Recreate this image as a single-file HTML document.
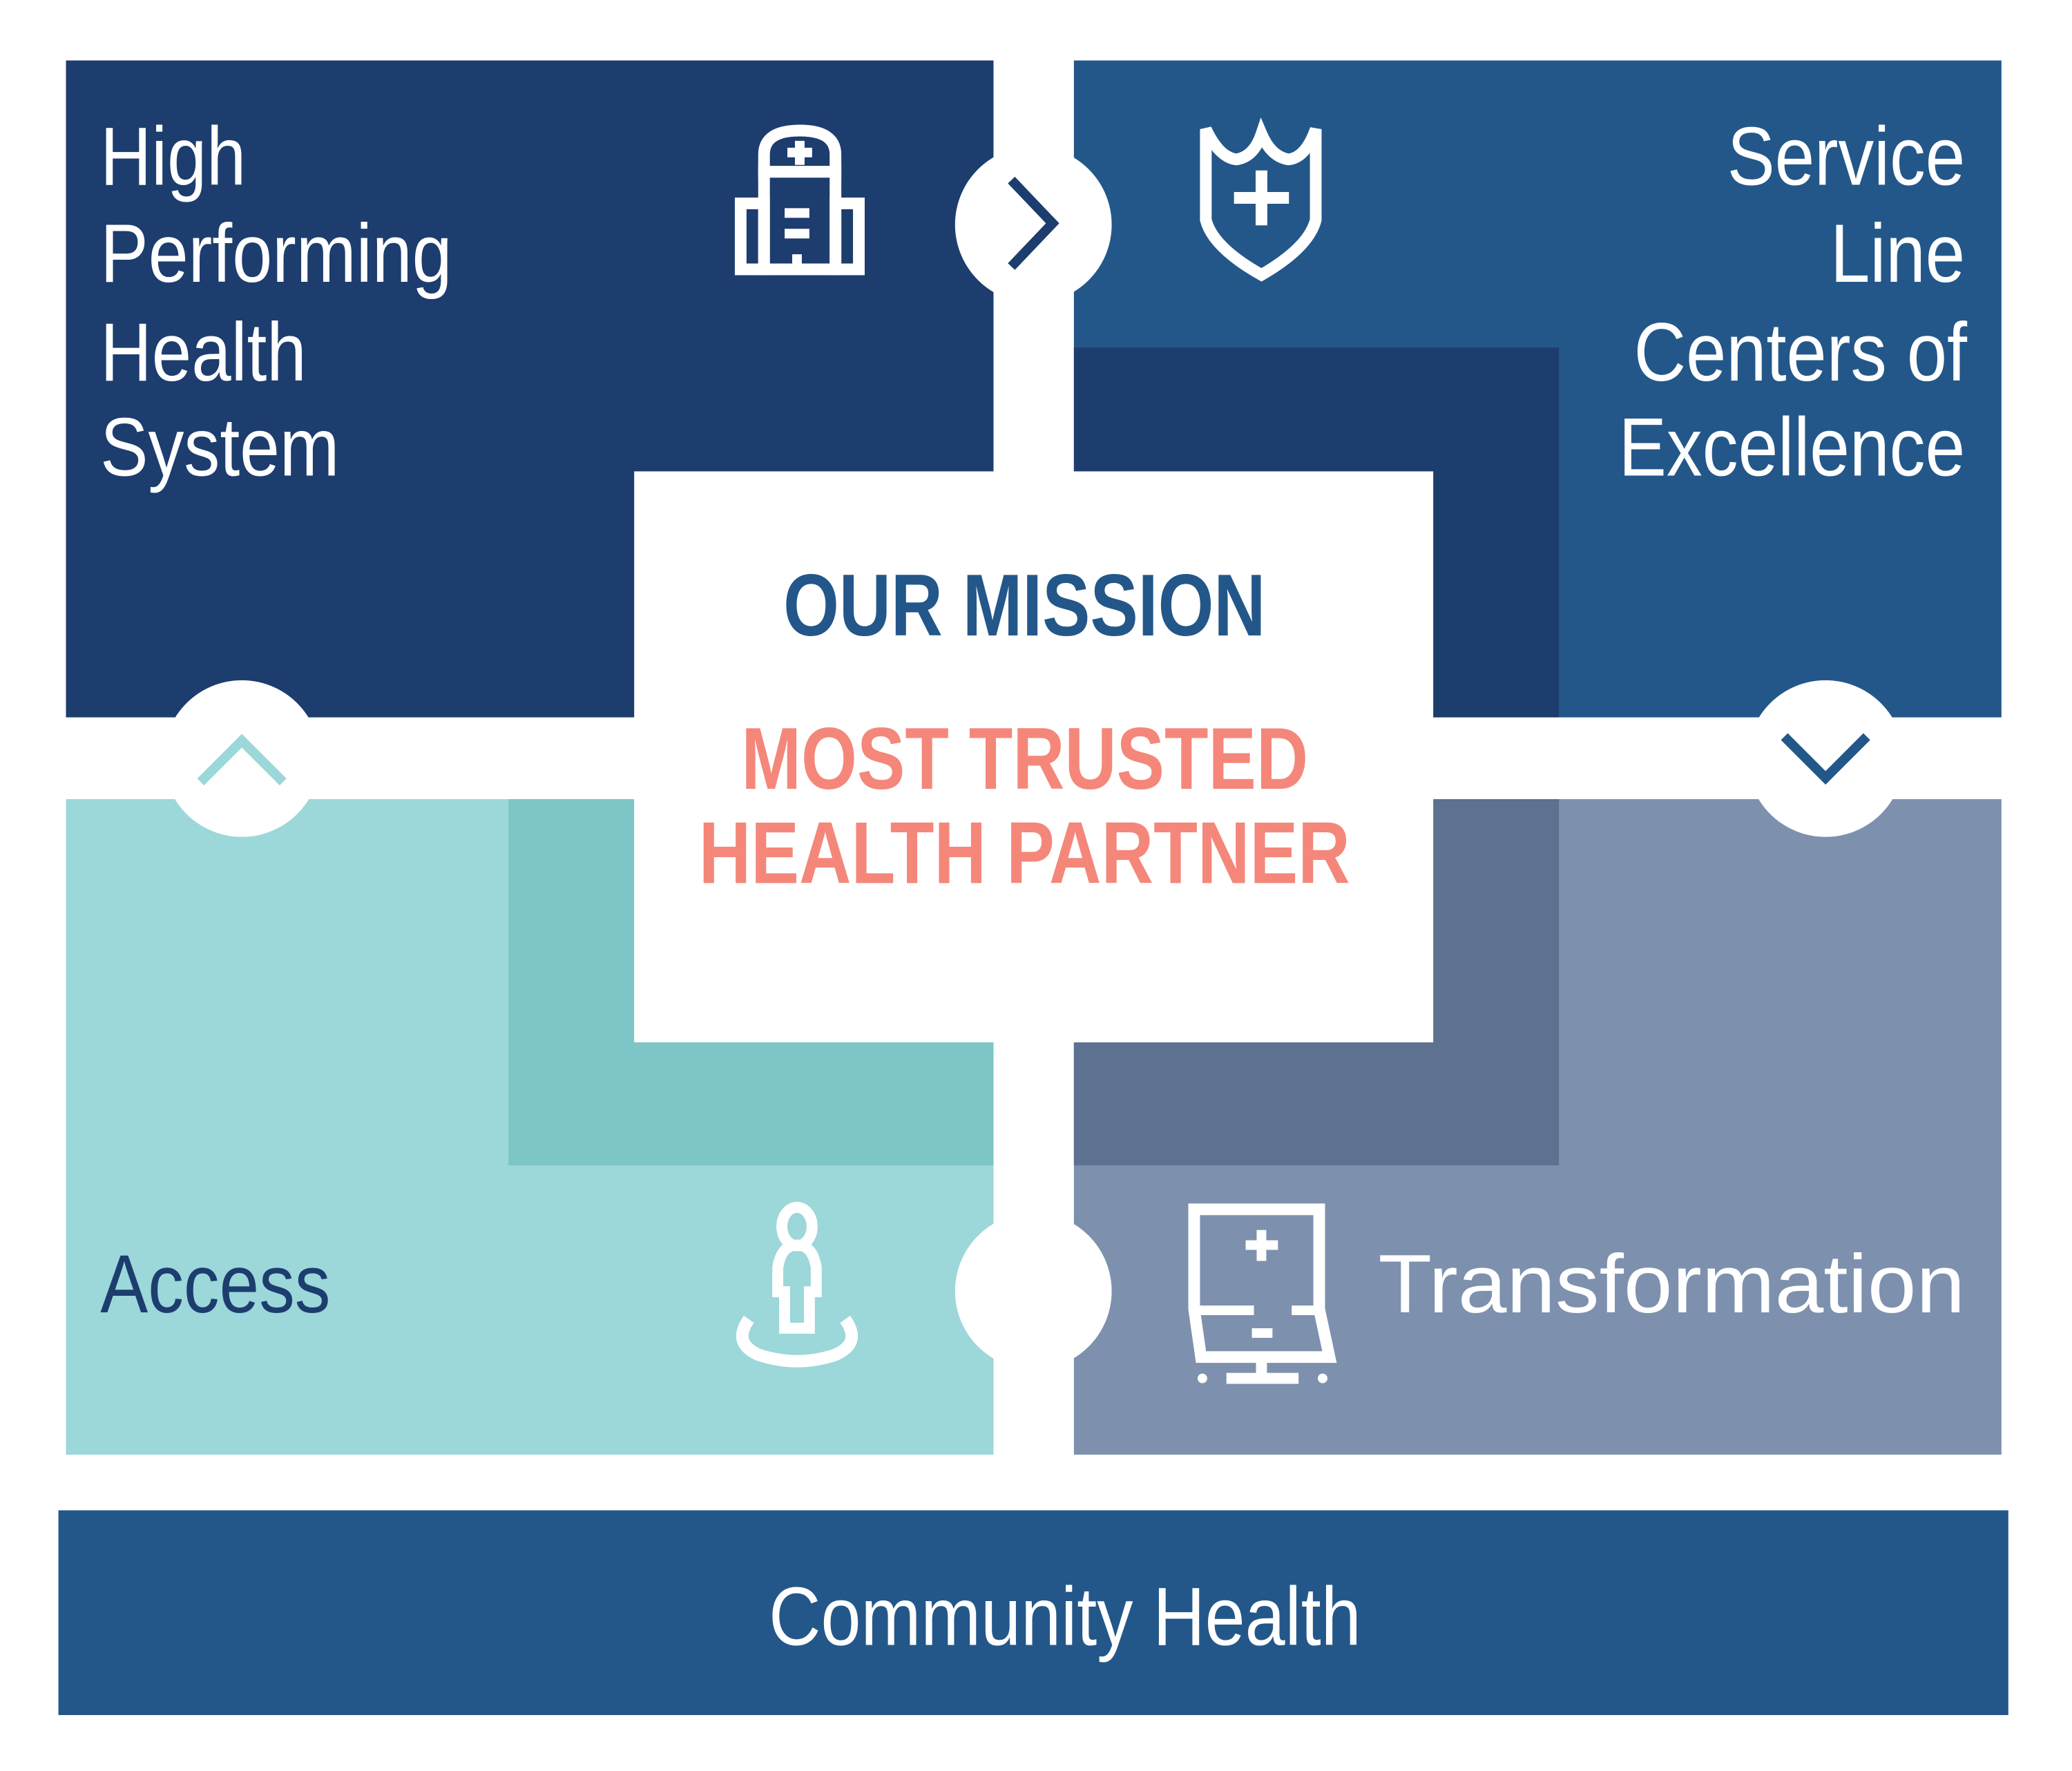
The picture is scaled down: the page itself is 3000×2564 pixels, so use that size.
<!DOCTYPE html>
<html><head><meta charset="utf-8"><style>html,body{margin:0;padding:0;background:#fff}svg{display:block}</style></head>
<body>
<svg width="3000" height="2564" viewBox="0 0 3000 2564" xmlns="http://www.w3.org/2000/svg" font-family="'Liberation Sans', sans-serif">
<rect width="3000" height="2564" fill="#fff"/>
<g transform="scale(0.9948)">
<rect x="96" y="88" width="1350" height="956" fill="#1c3d6e"/>
<rect x="1563" y="88" width="1350" height="956" fill="#235789"/>
<rect x="1563" y="506" width="706" height="538" fill="#1c3d6e"/>
<rect x="96" y="1163" width="1350" height="954" fill="#9cd7d9"/>
<rect x="740" y="1163" width="706" height="533" fill="#7ec5c7"/>
<rect x="1563" y="1163" width="1350" height="954" fill="#7d91ae"/>
<rect x="1563" y="1163" width="706" height="533" fill="#5d7190"/>
<rect x="923" y="686" width="1163" height="831" fill="#fff"/>
<rect x="85" y="2198" width="2838" height="298" fill="#235789"/>
<circle cx="1504" cy="327" r="114" fill="#fff"/>
<circle cx="352" cy="1104" r="114" fill="#fff"/>
<circle cx="2657" cy="1104" r="114" fill="#fff"/>
<circle cx="1504" cy="1879" r="114" fill="#fff"/>
<polyline points="1472,262 1532,325 1472,388" fill="none" stroke="#1c3d6e" stroke-width="14"/>
<polyline points="292,1138 352,1078 412,1138" fill="none" stroke="#9cd7d9" stroke-width="14"/>
<polyline points="2597,1072 2657,1132 2717,1072" fill="none" stroke="#235789" stroke-width="14"/>
<g fill="#fff" font-size="120">
<text x="146" y="269" textLength="212" lengthAdjust="spacingAndGlyphs">High</text>
<text x="146" y="410" textLength="512" lengthAdjust="spacingAndGlyphs">Performing</text>
<text x="146" y="554" textLength="300" lengthAdjust="spacingAndGlyphs">Health</text>
<text x="146" y="692" textLength="348" lengthAdjust="spacingAndGlyphs">System</text>
<text x="2514" y="269" textLength="346" lengthAdjust="spacingAndGlyphs">Service</text>
<text x="2664" y="410" textLength="196" lengthAdjust="spacingAndGlyphs">Line</text>
<text x="2378" y="554" textLength="485" lengthAdjust="spacingAndGlyphs">Centers of</text>
<text x="2356" y="692" textLength="504" lengthAdjust="spacingAndGlyphs">Excellence</text>
<text x="2006" y="1910" textLength="854" lengthAdjust="spacingAndGlyphs">Transformation</text>
<text x="1119" y="2394" textLength="862" lengthAdjust="spacingAndGlyphs">Community Health</text>
</g>
<text x="146" y="1910" font-size="120" fill="#1c3d6e" textLength="335" lengthAdjust="spacingAndGlyphs">Access</text>
<g font-weight="bold" font-size="128">
<text x="1140" y="925" fill="#235789" textLength="702" lengthAdjust="spacingAndGlyphs">OUR MISSION</text>
<text x="1079" y="1148" fill="#f4877a" textLength="825" lengthAdjust="spacingAndGlyphs">MOST TRUSTED</text>
<text x="1017" y="1285" fill="#f4877a" textLength="948" lengthAdjust="spacingAndGlyphs">HEALTH PARTNER</text>
</g>
<g fill="none" stroke="#fff" stroke-width="17">
<path d="M1112,225 Q1112,190 1164,190 Q1216,190 1216,225 L1216,250 L1112,250 Z"/>
<rect x="1112" y="250" width="104" height="142"/>
<rect x="1078" y="296" width="34" height="96"/>
<rect x="1216" y="296" width="34" height="96"/>
<path d="M1164,205 V240 M1146,222 H1182" stroke-width="14"/>
<path d="M1142,310 H1178 M1142,340 H1178 M1160,392 V370" stroke-width="14"/>
<path d="M1755,188 Q1775,230 1800,232 Q1825,228 1836,195 Q1850,228 1875,232 Q1900,230 1915,188 V320 Q1905,360 1836,400 Q1765,360 1755,320 Z"/>
<path d="M1836,248 V328 M1796,288 H1876" stroke-width="17"/>
<ellipse cx="1160" cy="1785" rx="22" ry="28" stroke-width="16"/>
<path d="M1132,1880 V1845 Q1137,1812 1160,1812 Q1183,1812 1188,1845 V1880 H1178 V1933 H1142 V1880 Z" stroke-width="16"/>
<path d="M1090,1920 Q1065,1955 1105,1972 Q1160,1990 1215,1972 Q1255,1955 1230,1920" stroke-width="18"/>
<path d="M1748,1975 L1738,1905 V1760 H1920 V1905 L1935,1975 Z" stroke-width="17"/>
<path d="M1738,1907 H1825 M1880,1907 H1920" stroke-width="14"/>
<path d="M1836,1790 V1835 M1813,1812 H1860 M1822,1940 H1852" stroke-width="14"/>
<path d="M1836,1975 V2000 M1785,2006 H1890" stroke-width="16"/>
</g>
<circle cx="1750" cy="2006" r="7" fill="#fff"/>
<circle cx="1925" cy="2006" r="7" fill="#fff"/>
</g>
</svg>
</body></html>
